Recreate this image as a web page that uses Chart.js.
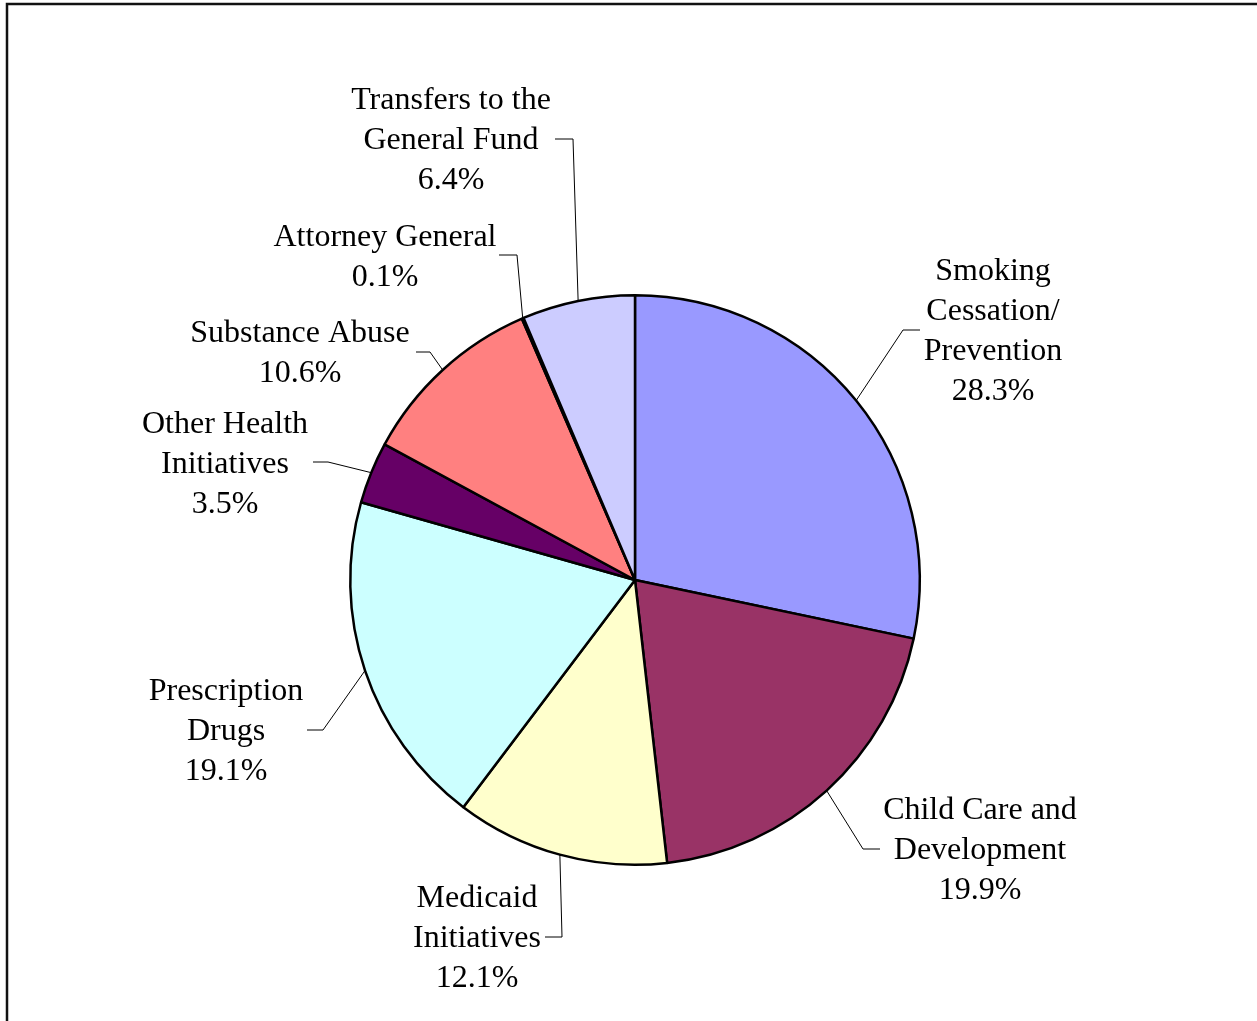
<!DOCTYPE html>
<html>
<head>
<meta charset="utf-8">
<title>Fund Allocation</title>
<script src="https://cdn.jsdelivr.net/npm/chart.js@4/dist/chart.umd.min.js"></script>
<style>
  html, body { margin: 0; padding: 0; background: #fff; }
  #wrap { width: 1257px; height: 1021px; position: relative; }
</style>
</head>
<body>
<div id="wrap"><canvas id="pie"></canvas></div>
<script>
// Data (percent of total)
const categories = [
  ['Smoking', 'Cessation/', 'Prevention'],
  ['Child Care and', 'Development'],
  ['Medicaid', 'Initiatives'],
  ['Prescription', 'Drugs'],
  ['Other Health', 'Initiatives'],
  ['Substance Abuse'],
  ['Attorney General'],
  ['Transfers to the', 'General Fund']
];
const shares = [28.3, 19.9, 12.1, 19.1, 3.5, 10.6, 0.1, 6.4];
const sliceColors = ['#9999FF', '#993366', '#FFFFCC', '#CCFFFF', '#660066', '#FF8080', '#0066CC', '#CCCCFF'];

// Label placement, offsets from the pie centre (px):
// elbow of leader line, end of its horizontal run, text centre x, first line middle y
const labelLayout = [
  { ex: 268, ey: -250, hx: 285, tx: 358, ty: -308 },
  { ex: 228, ey: 269, hx: 245, tx: 345, ty: 231 },
  { ex: -73, ey: 357, hx: -90, tx: -158, ty: 319 },
  { ex: -312, ey: 150, hx: -328, tx: -409, ty: 112 },
  { ex: -307, ey: -118, hx: -322, tx: -410, ty: -155 },
  { ex: -205, ey: -228, hx: -219, tx: -335, ty: -246 },
  { ex: -118, ey: -325, hx: -136, tx: -250, ty: -342 },
  { ex: -62, ey: -441, hx: -80, tx: -184, ty: -479 }
];

const FONT = '32px "Liberation Serif", "Times New Roman", serif';
const LINE_H = 40;

// Frame round the chart (open on the right and bottom, as in the original)
const framePlugin = {
  id: 'frame',
  beforeDraw(chart) {
    const ctx = chart.ctx;
    ctx.save();
    ctx.strokeStyle = '#111';
    ctx.lineWidth = 2.5;
    ctx.beginPath();
    ctx.moveTo(7, chart.height + 10);
    ctx.lineTo(7, 4);
    ctx.lineTo(chart.width + 10, 4);
    ctx.stroke();
    ctx.restore();
  }
};

// Leader lines and category / percent labels
const labelPlugin = {
  id: 'sliceLabels',
  afterDatasetsDraw(chart) {
    const ctx = chart.ctx;
    const meta = chart.getDatasetMeta(0);
    ctx.save();
    ctx.font = FONT;
    ctx.fillStyle = '#000';
    ctx.textAlign = 'center';
    ctx.textBaseline = 'middle';
    meta.data.forEach(function(arc, i) {
      const p = arc.getProps(['x', 'y', 'startAngle', 'endAngle', 'outerRadius'], true);
      const mid = (p.startAngle + p.endAngle) / 2;
      const ax = p.x + Math.cos(mid) * p.outerRadius;
      const ay = p.y + Math.sin(mid) * p.outerRadius;
      const L = labelLayout[i];

      ctx.strokeStyle = '#000';
      ctx.lineWidth = 1;
      ctx.beginPath();
      ctx.moveTo(ax, ay);
      ctx.lineTo(p.x + L.ex, p.y + L.ey);
      ctx.lineTo(p.x + L.hx, p.y + L.ey);
      ctx.stroke();

      const lines = categories[i].concat([shares[i].toFixed(1) + '%']);
      lines.forEach(function(txt, j) {
        ctx.fillText(txt, p.x + L.tx, p.y + L.ty + j * LINE_H);
      });
    });
    ctx.restore();
  }
};

new Chart(document.getElementById('pie'), {
  type: 'pie',
  data: {
    labels: categories.map(c => c.join(' ')),
    datasets: [{
      data: shares,
      backgroundColor: sliceColors,
      borderColor: '#000',
      borderWidth: 2.5,
      borderAlign: 'center'
    }]
  },
  options: {
    responsive: true,
    maintainAspectRatio: false,
    animation: false,
    layout: {
      padding: { left: 349, right: 336, top: 294, bottom: 155 }
    },
    plugins: {
      legend: { display: false },
      tooltip: { enabled: false }
    }
  },
  plugins: [framePlugin, labelPlugin]
});
</script>
</body>
</html>
